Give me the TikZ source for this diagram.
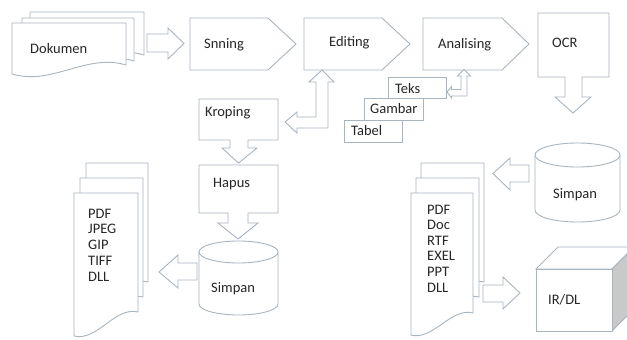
\documentclass[tikz,border=0pt]{standalone}
\usepackage{fontspec}
\setmainfont{Carlito}
\definecolor{linec}{HTML}{A9B5BE}
\definecolor{txtc}{HTML}{262626}
\definecolor{sidec}{HTML}{C9C9C9}
% doc shape: x1, ytop, x2, yleftbottom, yrightbottom, wave amount
\newcommand{\mydocshape}[6]{%
  \draw[shp] (#1,#2) -- (#3,#2) -- (#3,#5)
    .. controls ({#3-(#3-#1)*0.35},{#5-#6}) and ({#1+(#3-#1)*0.35},{#4+#6}) .. (#1,#4) -- cycle;}
\begin{document}
\begin{tikzpicture}[x=1pt,y=-1pt,
  shp/.style={draw=linec,line width=0.9pt,fill=white,line join=miter},
  lbl/.style={anchor=base west,inner sep=0pt,text=txtc,font=\fontsize{14.5}{16}\selectfont}]
\useasboundingbox (0,0) rectangle (627,340);
\clip (0,0) rectangle (627,340);
\fill[white] (0,0) rectangle (627,340);

% ---- Dokumen stack
\mydocshape{30}{12}{144}{63}{55}{12}
\mydocshape{22}{18}{134}{69}{61}{12}
\mydocshape{12}{23}{126}{74}{65}{12}
\node[lbl] (dok) at (30,53) {Dokumen};

% arrow Dokumen -> Snning
\draw[shp] (147,34) -- (168,34) -- (168,28) -- (184,43.5) -- (168,59) -- (168,52) -- (147,52) -- cycle;

% ---- pentagons
\draw[shp] (190,18) -- (268,18) -- (296,44) -- (268,70) -- (190,70) -- cycle;
\node[lbl] (snn) at (204,48) {Snning};
\draw[shp] (304,18) -- (382,18) -- (410,44) -- (382,70) -- (304,70) -- cycle;
\node[lbl] (edt) at (329,46) {Editing};
\draw[shp] (423,18) -- (502,18) -- (529,44) -- (502,70) -- (423,70) -- cycle;
\node[lbl] (ana) at (438,48) {Analising};

% ---- OCR callout
\draw[shp] (538,13) -- (609,13) -- (609,77) -- (582,77) -- (582,97) -- (591,97) -- (573,113)
  -- (555,97) -- (565,97) -- (565,77) -- (538,77) -- cycle;
\node[lbl] (ocr) at (552,47) {OCR};

% ---- Editing <-> Kroping bent arrow
\draw[shp] (285,122) -- (297,112) -- (297,117) -- (316,117) -- (316,82) -- (309,82) -- (322,70)
  -- (334,82) -- (328,82) -- (328,128) -- (297,128) -- (297,133) -- cycle;

% ---- Kroping callout
\draw[shp] (199,99) -- (278,99) -- (278,140) -- (248,140) -- (248,148) -- (257,148) -- (238.5,163)
  -- (222,148) -- (230,148) -- (230,140) -- (199,140) -- cycle;
\node[lbl] (krp) at (205,116) {Kroping};

% ---- Hapus callout
\draw[shp] (199,165) -- (278,165) -- (278,213) -- (248,213) -- (248,223) -- (258,223) -- (238,239)
  -- (218,223) -- (228,223) -- (228,213) -- (199,213) -- cycle;
\node[lbl] (hps) at (213,187) {Hapus};

% ---- left Simpan cylinder
\draw[shp] (199,252) -- (199,304) arc[start angle=180,end angle=0,x radius=39.5,y radius=11] -- (278,252) -- cycle;
\draw[shp] (238.5,252) ellipse[x radius=39.5,y radius=11];
\node[lbl] (smpl) at (211,292) {Simpan};

% arrow Simpan -> left docs
\draw[shp] (197,263) -- (178,263) -- (178,255) -- (159,272) -- (178,288) -- (178,280) -- (197,280) -- cycle;

% ---- left doc stack
\mydocshape{86}{163}{148}{306}{282}{6}
\mydocshape{80}{178}{143}{321}{297}{6}
\mydocshape{74}{193}{138}{336}{312}{6}
\node[lbl] (l1) at (88,218) {PDF};
\node[lbl] (l2) at (88,233.75) {JPEG};
\node[lbl] (l3) at (88,249.5) {GIP};
\node[lbl] (l4) at (88,265.25) {TIFF};
\node[lbl] (l5) at (88,281) {DLL};

% ---- Teks / Gambar / Tabel
\draw[shp] (344,120) rectangle (402,142);
\node[lbl] (tbl) at (351,135) {Tabel};
\draw[shp] (364,98) rectangle (423,120);
\node[lbl] (gbr) at (370,113) {Gambar};
\draw[shp] (388,77) rectangle (446,98);
\node[lbl] (tks) at (395,93) {Teks};

% Teks <-> Analising bent arrow
\draw[shp] (447,92) -- (451.5,86.5) -- (451.5,89.5) -- (461,89.5) -- (461,76) -- (457.5,76) -- (464,69.5)
  -- (470.5,76) -- (467,76) -- (467,96) -- (451.5,96) -- (451.5,98) -- cycle;

% ---- right Simpan cylinder
\draw[shp] (535,155) -- (535,210) arc[start angle=180,end angle=0,x radius=42.5,y radius=12] -- (620,155) -- cycle;
\draw[shp] (577.5,155) ellipse[x radius=42.5,y radius=12];
\node[lbl] (smpr) at (553,198) {Simpan};

% arrow Simpan -> right docs
\draw[shp] (529,165) -- (510,165) -- (510,158) -- (493,173.5) -- (510,190) -- (510,182) -- (529,182) -- cycle;

% ---- right doc stack
\mydocshape{421}{163}{484}{305}{282}{6}
\mydocshape{416}{178}{479}{320}{297}{6}
\mydocshape{411}{193}{473}{335}{313}{6}
\node[lbl] (r1) at (427,214) {PDF};
\node[lbl] (r2) at (427,229.6) {Doc};
\node[lbl] (r3) at (427,245.2) {RTF};
\node[lbl] (r4) at (427,260.8) {EXEL};
\node[lbl] (r5) at (427,276.4) {PPT};
\node[lbl] (r6) at (427,292) {DLL};

% arrow docs -> IR/DL
\draw[shp] (483,285) -- (503,285) -- (503,277) -- (520,293) -- (503,309) -- (503,302) -- (483,302) -- cycle;

% ---- cube IR/DL
\draw[shp] (536,269) -- (558,247) -- (634,247) -- (612,269) -- cycle;
\draw[shp,fill=sidec] (612,269) -- (634,247) -- (634,309) -- (612,331) -- cycle;
\draw[shp] (536,269) rectangle (612,331);
\node[lbl] (ir) at (548,304) {IR/DL};
\end{tikzpicture}
\end{document}
